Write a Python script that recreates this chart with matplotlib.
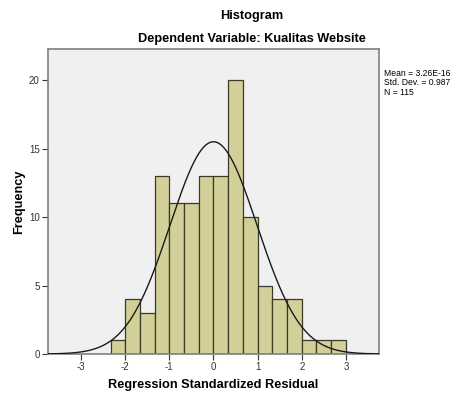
import numpy as np
import matplotlib.pyplot as plt

plt.rcParams['font.family'] = ['Liberation Sans', 'DejaVu Sans']
plt.rcParams['axes.unicode_minus'] = False

# histogram bins (width 1/3) and counts
bin_edges = [-7/3, -2, -5/3, -4/3, -1, -2/3, -1/3, 0, 1/3, 2/3, 1, 4/3, 5/3, 2, 7/3, 8/3, 3]
counts = [1, 4, 3, 13, 11, 11, 13, 13, 20, 10, 5, 4, 4, 1, 1, 1]
mean = 3.26e-16
std = 0.987
n = 115

fig = plt.figure(figsize=(4.58, 3.94), dpi=100)
ax = fig.add_axes([0.1048, 0.1015, 0.7227, 0.774])
ax.set_facecolor('#f0f0f0')

lefts = np.array(bin_edges[:-1])
widths = np.diff(bin_edges)
ax.bar(lefts, counts, width=widths, align='edge', color='#d3cf99',
       edgecolor='#3a3a2a', linewidth=0.9, zorder=2)

# normal curve from the stated mean / std dev
xs = np.linspace(-3.75, 3.75, 400)
bw = widths[0]
ys = n * bw * np.exp(-0.5 * ((xs - mean) / std) ** 2) / (std * np.sqrt(2 * np.pi))
ax.plot(xs, ys, color='#1a1a1a', linewidth=1.0, zorder=3)

ax.set_xlim(-3.75, 3.75)
ax.set_ylim(0, 22.26)
ax.set_xticks([-3, -2, -1, 0, 1, 2, 3])
ax.set_yticks([0, 5, 10, 15, 20])
ax.tick_params(labelsize=7, colors='#333333', length=4, width=0.8, pad=2)
for s in ax.spines.values():
    s.set_color('#808080')
    s.set_linewidth(1.2)

ax.set_xlabel('Regression Standardized Residual', fontsize=9.2, fontweight='bold', labelpad=5)
ax.set_ylabel('Frequency', fontsize=9.2, fontweight='bold', labelpad=3)

fig.text(0.55, 0.96, 'Histogram', ha='center', va='center', fontsize=9.2, fontweight='bold')
fig.text(0.55, 0.902, 'Dependent Variable: Kualitas Website', ha='center', va='center',
         fontsize=9.2, fontweight='bold')

fig.text(0.839, 0.79, 'Mean = 3.26E-16\nStd. Dev. = 0.987\nN = 115', ha='left', va='center',
         fontsize=6.2, linespacing=1.05)

fig.savefig('out.png', dpi=100)
